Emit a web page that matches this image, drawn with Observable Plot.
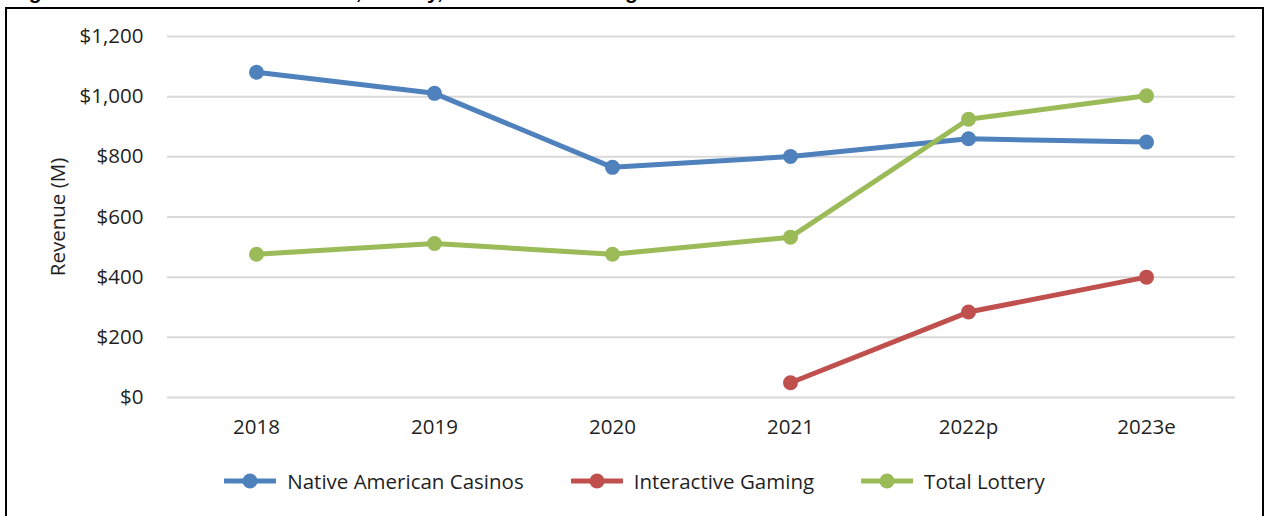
<!DOCTYPE html>
<html>
<head>
<meta charset="utf-8">
<script src="https://cdn.jsdelivr.net/npm/d3@7"></script>
<script src="https://cdn.jsdelivr.net/npm/@observablehq/plot@0.6"></script>
<style>
  html, body { margin: 0; padding: 0; background: #fff; }
  #wrap { position: relative; width: 1265px; height: 516px; overflow: hidden; background: #fff; }
  #title { position: absolute; left: 10px; top: -18px; font: bold 21px "Liberation Sans", Arial, sans-serif; line-height: 20px; white-space: nowrap; color: #000; }
  #frame { position: absolute; left: 5px; top: 7px; width: 1259px; height: 540px; border: 2px solid #000; box-sizing: border-box; }
  #chart { position: absolute; left: 0; top: 0; }
  #legend { position: absolute; left: 2px; top: 467px; width: 1265px; display: flex; justify-content: center; gap: 47px; font: 20.5px "Open Sans", sans-serif; color: #1f1f1f; }
  .item { display: flex; align-items: center; gap: 11px; }
</style>
</head>
<body>
<div id="wrap">
  <div id="title">Figure 1: Native American Casinos, Lottery, Interactive Gaming Revenue</div>
  <div id="frame"></div>
  <div id="chart"></div>
  <div id="legend"></div>
</div>
<script>
const years = ["2018", "2019", "2020", "2021", "2022p", "2023e"];
const seriesNames = ["Native American Casinos", "Interactive Gaming", "Total Lottery"];
const seriesColors = ["#4F81BD", "#C0504D", "#9BBB59"];
const nativeCasinos = [1081, 1011, 765, 801, 860, 849];
const interactiveGaming = [null, null, null, 49, 284, 400];
const totalLottery = [476, 512, 476, 533, 925, 1003];
const yTicks = [0, 200, 400, 600, 800, 1000, 1200];

const valuesBySeries = [nativeCasinos, interactiveGaming, totalLottery];
const data = [];
seriesNames.forEach((s, i) => {
  years.forEach((y, j) => {
    const v = valuesBySeries[i][j];
    if (v != null) data.push({series: s, year: y, value: v});
  });
});

const fmt = d3.format(",");
const chart = Plot.plot({
  width: 1265,
  height: 450,
  marginLeft: 167,
  marginRight: 30,
  marginTop: 36,
  marginBottom: 53,
  style: {fontFamily: "'Open Sans', sans-serif", fontSize: "20.5px", color: "#1f1f1f", background: "transparent", overflow: "visible"},
  x: {type: "point", domain: years, padding: 0.5},
  y: {domain: [0, 1200]},
  color: {domain: seriesNames, range: seriesColors},
  marks: [
    Plot.ruleY(yTicks, {stroke: "#d9d9d9", strokeWidth: 2}),
    Plot.axisY({ticks: yTicks, tickFormat: d => "$" + fmt(d), tickSize: 0, tickPadding: 24, label: "Revenue (M)", labelAnchor: "center", labelArrow: "none", labelOffset: 117}),
    Plot.axisX({tickSize: 0, tickPadding: 22, label: null}),
    Plot.line(data, {x: "year", y: "value", stroke: "series", z: "series", strokeWidth: 5}),
    Plot.dot(data, {x: "year", y: "value", fill: "series", r: 7.5})
  ]
});
document.getElementById("chart").appendChild(chart);

const legend = document.getElementById("legend");
seriesNames.forEach((s, i) => {
  const item = document.createElement("div");
  item.className = "item";
  item.innerHTML = `<svg width="52" height="20"><line x1="1" x2="51" y1="10" y2="10" stroke="${seriesColors[i]}" stroke-width="5" stroke-linecap="round"/><circle cx="26" cy="10" r="7.5" fill="${seriesColors[i]}"/></svg><span>${s}</span>`;
  legend.appendChild(item);
});
</script>
</body>
</html>
